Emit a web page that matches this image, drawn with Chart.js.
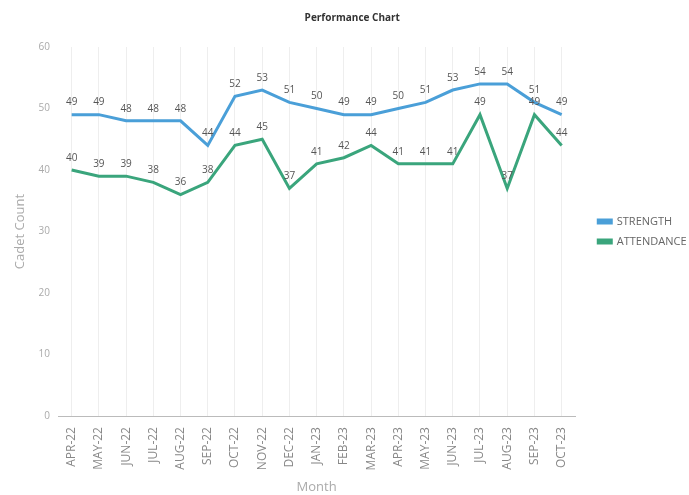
<!DOCTYPE html>
<html>
<head>
<meta charset="utf-8">
<script src="https://cdn.jsdelivr.net/npm/chart.js@4.4.0/dist/chart.umd.min.js"></script>
<style>
  html, body { margin: 0; padding: 0; background: #fff; }
  #wrap { width: 689px; height: 495px; }
</style>
</head>
<body>
<div id="wrap"><canvas id="chart" width="689" height="495"></canvas></div>
<script>
// chart data
const months = ['APR-22', 'MAY-22', 'JUN-22', 'JUL-22', 'AUG-22', 'SEP-22', 'OCT-22', 'NOV-22', 'DEC-22', 'JAN-23',
    'FEB-23', 'MAR-23', 'APR-23', 'MAY-23', 'JUN-23', 'JUL-23', 'AUG-23', 'SEP-23', 'OCT-23'];
const strength = [49, 49, 48, 48, 48, 44, 52, 53, 51, 50, 49, 49, 50, 51, 53, 54, 54, 51, 49];
const attendance = [40, 39, 39, 38, 36, 38, 44, 45, 37, 41, 42, 44, 41, 41, 41, 49, 37, 49, 44];
const yTicks = [0, 10, 20, 30, 40, 50, 60];

const FONT = '"Open Sans", sans-serif';

// draws the value above every point
const valueLabels = {
    id: 'valueLabels',
    afterDatasetsDraw: function (chart) {
        const ctx = chart.ctx;
        ctx.save();
        ctx.font = '10px ' + FONT;
        ctx.fillStyle = '#555';
        ctx.textAlign = 'center';
        ctx.textBaseline = 'bottom';
        chart.data.datasets.forEach(function (ds, i) {
            const meta = chart.getDatasetMeta(i);
            meta.data.forEach(function (pt, j) {
                ctx.fillText(String(ds.data[j]), pt.x, pt.y - 7);
            });
        });
        ctx.restore();
    }
};

new Chart(document.getElementById('chart'), {
    type: 'line',
    data: {
        labels: months,
        datasets: [{
            label: 'STRENGTH',
            data: strength,
            borderColor: '#4a9fd8',
            backgroundColor: '#4a9fd8',
            borderWidth: 3,
            pointRadius: 0,
            tension: 0
        }, {
            label: 'ATTENDANCE',
            data: attendance,
            borderColor: '#3aa57c',
            backgroundColor: '#3aa57c',
            borderWidth: 3,
            pointRadius: 0,
            tension: 0
        }]
    },
    options: {
        responsive: false,
        animation: false,
        // legend is allowed to run into the empty right margin
        layout: { padding: { left: 8, right: -7.5, top: 0, bottom: 0 } },
        plugins: {
            title: {
                display: true,
                text: 'Performance Chart',
                color: '#333',
                font: { size: 10, weight: 'bold', family: FONT },
                padding: { top: 12, bottom: 23 }
            },
            legend: {
                position: 'right',
                fullSize: false,
                labels: {
                    color: '#666',
                    font: { size: 11, family: FONT },
                    boxWidth: 13,
                    boxHeight: 3,
                    padding: 9
                }
            },
            tooltip: { enabled: false }
        },
        scales: {
            x: {
                offset: true,
                grid: { color: '#eeeeee', drawTicks: false, offset: false },
                border: { display: true, color: '#bbbbbb', width: 1 },
                ticks: {
                    color: '#888',
                    font: { size: 12, family: FONT },
                    minRotation: 90,
                    maxRotation: 90,
                    padding: 11
                },
                title: {
                    display: true,
                    text: 'Month',
                    color: '#aaa',
                    font: { size: 13, family: FONT },
                    padding: { top: -2, bottom: 0 }
                }
            },
            y: {
                min: 0,
                max: 60,
                afterBuildTicks: function (axis) {
                    axis.ticks = yTicks.map(v => ({ value: v }));
                },
                grid: { display: false, drawTicks: false },
                border: { display: false },
                ticks: {
                    color: '#aaa',
                    font: { size: 10, family: FONT },
                    padding: 8
                },
                title: {
                    display: true,
                    text: 'Cadet Count',
                    color: '#aaa',
                    font: { size: 13, family: FONT },
                    padding: { top: 4, bottom: 3 }
                }
            },
            // empty right gutter between the plot and the legend
            gap: {
                position: 'right',
                display: true,
                grid: { display: false },
                border: { display: false },
                ticks: { display: false },
                afterFit: function (axis) {
                    axis.width = 14;
                }
            }
        }
    },
    plugins: [valueLabels]
});
</script>
</body>
</html>
